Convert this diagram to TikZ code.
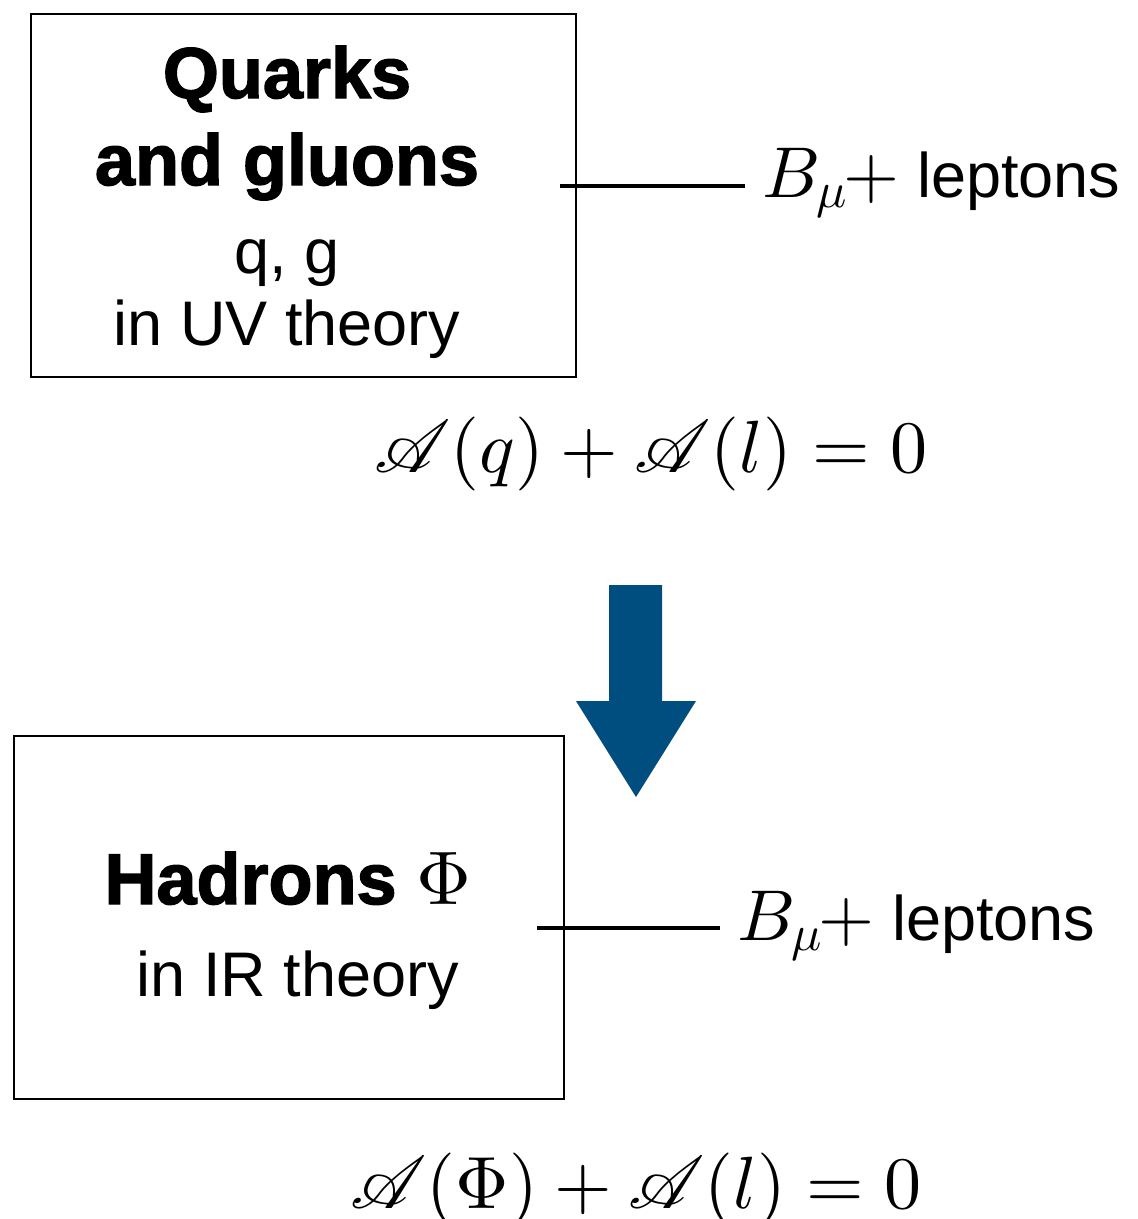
\documentclass[tikz,border=0pt]{standalone}
\DeclareFontShape{OML}{cmm}{m}{it}{<-> cmmi10}{}
\DeclareFontShape{OMS}{cmsy}{m}{n}{<-> cmsy10}{}
\DeclareFontShape{OMX}{cmex}{m}{n}{<-> cmex10}{}
\DeclareFontShape{OT1}{cmr}{m}{n}{<-> cmr10}{}
\IfFileExists{mathrsfs.sty}{\usepackage{mathrsfs}
  \DeclareFontFamily{U}{rsfs}{\skewchar\font127 }
  \DeclareFontShape{U}{rsfs}{m}{n}{<-> rsfs10}{}}{\newcommand{\mathscr}{\mathcal}}
\usepackage[no-math]{fontspec}
\setmainfont{Liberation Sans}
\newfontfamily\heavyfont[FakeBold=2]{Liberation Sans Bold}
\definecolor{arrowblue}{RGB}{0,78,128}
\tikzset{
  frame/.style={draw=black, line width=2pt, anchor=north west, inner sep=0pt},
  boldtxt/.style={anchor=base, inner sep=0pt, font=\fontsize{72}{80}\selectfont\heavyfont},
  regtxt/.style={anchor=base, inner sep=0pt, font=\fontsize{63}{72}\selectfont},
  eqtxt/.style={anchor=base, inner sep=0pt, font=\fontsize{74}{86}\selectfont},
  lbl/.style={anchor=base west, inner sep=0pt, font=\fontsize{63}{72}\selectfont},
  wire/.style={line width=3.5pt},
}
\newcommand{\bmu}{{\fontsize{72}{80}\selectfont$B_{\mu}\mkern-1mu\mathord{+}$}}
\begin{document}
\begin{tikzpicture}[x=1pt,y=-1pt]
\useasboundingbox (0,0) rectangle (1138,1219);
% UV box
\node[frame, minimum width=545pt, minimum height=363pt] (uv) at (30,13) {};
\node[boldtxt] (t1) at (287,98) {Quarks};
\node[boldtxt] (t2) at (287,185) {and gluons};
\node[regtxt] (t3) at (287,273) {q, g};
\node[regtxt] (t4) at (287,345) {in UV theory};
\node[lbl] (lab1) at (762,197) {\bmu\ leptons};
\coordinate (s1) at (560,186);
\draw[wire] (s1) -- ([xshift=-17pt]s1 -| lab1.west);
% equation 1
\node[eqtxt] (eq1) at (651,472) {$\mathscr{A}(q)+\mathscr{A}(l)=0$};
% block arrow
\fill[arrowblue] (609,585) -- (662,585) -- (662,701) -- (696,701) -- (636,797)
  -- (576,701) -- (609,701) -- cycle;
% IR box
\node[frame, minimum width=550pt, minimum height=363pt] (ir) at (13,735) {};
\node[boldtxt] (t5) at (288,904) {Hadrons {\fontsize{76}{80}\selectfont$\Phi$}};
\node[regtxt] (t6) at (298,996) {in IR theory};
\node[lbl] (lab2) at (737,940) {\bmu\ leptons};
\coordinate (s2) at (537,928);
\draw[wire] (s2) -- ([xshift=-17pt]s2 -| lab2.west);
% equation 2
\node[eqtxt] (eq2) at (636,1208) {$\mathscr{A}(\Phi)+\mathscr{A}(l)=0$};
\end{tikzpicture}
\end{document}
